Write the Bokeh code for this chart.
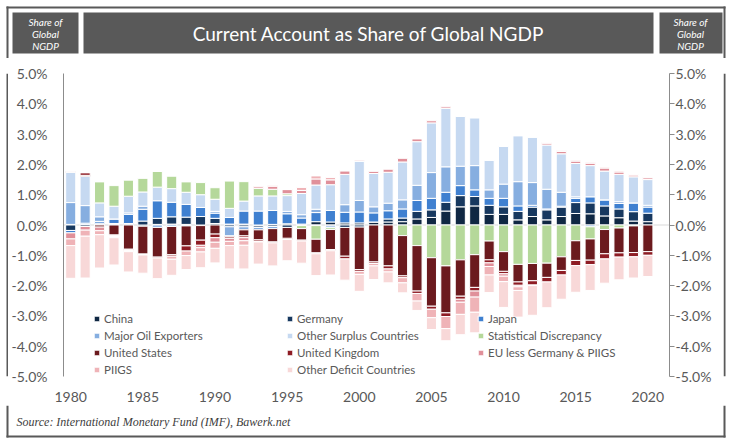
import numpy as np
from bokeh.plotting import figure
from bokeh.layouts import column, row
from bokeh.models import (ColumnDataSource, LinearAxis, FixedTicker, PrintfTickFormatter,
                          Legend, LegendItem, Span, Range1d)
from bokeh.core.properties import value
from bokeh.embed import file_html
from bokeh.resources import INLINE

years = list(range(1980, 2021))

china = [0.02, 0.02, 0.03, 0.02, 0.01, -0.04, 0.02, 0.03, 0.02, -0.02,
         0.05, 0.03, 0.03, -0.03, 0.02, 0.04, 0.03, 0.11, 0.10, 0.07,
         0.07, 0.10, 0.10, 0.11, 0.20, 0.25, 0.46, 0.60, 0.63, 0.35,
         0.35, 0.17, 0.28, 0.17, 0.28, 0.38, 0.37, 0.30, 0.24, 0.13, 0.11]
germany = [-0.18, -0.05, 0.03, 0.03, 0.04, 0.13, 0.20, 0.24, 0.24, 0.28,
           0.17, -0.06, -0.06, -0.05, -0.05, -0.08, -0.02, -0.02, -0.03, -0.08,
           -0.07, 0.00, 0.10, 0.12, 0.25, 0.25, 0.29, 0.37, 0.31, 0.30,
           0.25, 0.28, 0.31, 0.33, 0.31, 0.36, 0.36, 0.33, 0.29, 0.31, 0.28]
japan = [-0.08, 0.04, 0.06, 0.15, 0.30, 0.39, 0.58, 0.48, 0.42, 0.30,
         0.17, 0.22, 0.43, 0.46, 0.46, 0.33, 0.20, 0.30, 0.38, 0.35,
         0.36, 0.30, 0.27, 0.30, 0.36, 0.38, 0.33, 0.33, 0.22, 0.23,
         0.28, 0.18, 0.06, 0.03, 0.03, 0.14, 0.20, 0.20, 0.18, 0.29, 0.20]
oil_exporters = [0.72, 0.58, 0.15, 0.00, 0.05, 0.10, -0.08, -0.05, -0.03, 0.00,
                 0.06, -0.30, -0.10, -0.08, -0.07, 0.08, 0.11, 0.11, -0.06, 0.25,
                 0.38, 0.20, 0.25, 0.30, 0.50, 0.85, 0.84, 0.64, 0.80, 0.28,
                 0.47, 0.80, 0.75, 0.65, 0.46, 0.05, -0.06, 0.00, 0.06, 0.00, 0.06]
other_surplus = [1.00, 0.97, 0.46, 0.42, 0.55, 0.47, 0.45, 0.45, 0.40, 0.42,
                 0.40, 0.30, 0.33, 0.50, 0.48, 0.52, 0.70, 0.80, 0.85, 1.00,
                 1.30, 1.10, 1.02, 1.25, 1.44, 1.64, 1.93, 1.64, 1.57, 0.97,
                 1.24, 1.51, 1.50, 1.46, 1.27, 1.10, 1.03, 0.95, 0.90, 0.86, 0.85]
stat_discrepancy = [0.00, 0.00, 0.70, 0.68, 0.53, 0.46, 0.52, 0.42, 0.35, 0.40,
                    0.38, 0.90, 0.64, 0.25, 0.22, 0.06, -0.10, -0.45, -0.06, 0.00,
                    0.00, 0.00, 0.00, -0.35, -0.68, -1.08, -1.35, -1.15, -0.98, -0.53,
                    -0.88, -1.30, -1.27, -1.26, -1.05, -0.52, -0.40, -0.15, -0.10, -0.03, 0.00]
united_states = [0.01, 0.03, -0.07, -0.33, -0.80, -0.92, -0.98, -0.93, -0.66, -0.48,
                 -0.30, -0.03, -0.20, -0.33, -0.44, -0.36, -0.38, -0.45, -0.66, -0.95,
                 -1.40, -1.22, -1.35, -1.33, -1.50, -1.60, -1.55, -1.20, -1.08, -0.62,
                 -0.65, -0.58, -0.57, -0.47, -0.45, -0.65, -0.70, -0.80, -0.82, -0.88, -0.88]
united_kingdom = [0.01, 0.08, 0.00, -0.02, -0.02, -0.01, -0.03, -0.05, -0.17, -0.17,
                  -0.12, -0.05, -0.06, -0.05, -0.03, -0.04, -0.03, -0.03, -0.04, -0.09,
                  -0.06, -0.05, -0.10, -0.06, -0.08, -0.10, -0.12, -0.10, -0.12, -0.10,
                  -0.08, -0.11, -0.14, -0.15, -0.15, -0.17, -0.15, -0.17, -0.14, -0.14, -0.12]
eu_less = [-0.20, -0.12, -0.12, -0.03, -0.02, 0.00, 0.00, 0.00, 0.00, -0.08,
           -0.15, -0.10, -0.10, 0.05, 0.10, 0.14, 0.10, 0.20, 0.16, 0.12,
           0.03, 0.07, 0.10, 0.12, 0.09, 0.07, 0.05, -0.10, -0.20, -0.12,
           -0.08, -0.05, 0.00, 0.06, 0.08, 0.08, 0.08, 0.10, 0.08, 0.06, 0.06]
piigs = [-0.22, -0.20, -0.13, -0.04, -0.04, -0.02, 0.00, -0.10, -0.15, -0.14,
         -0.20, -0.14, -0.15, -0.02, 0.03, 0.00, 0.10, 0.10, 0.08, 0.00,
         -0.10, -0.08, -0.10, -0.17, -0.25, -0.28, -0.40, -0.40, -0.50, -0.28,
         -0.18, -0.12, -0.02, 0.02, 0.02, 0.03, 0.03, 0.03, 0.03, 0.02, 0.02]
other_deficit = [-1.08, -1.38, -1.10, -0.90, -0.67, -0.60, -0.68, -0.53, -0.46, -0.52,
                 -0.48, -0.77, -0.78, -0.73, -0.76, -0.70, -0.73, -0.72, -0.80, -0.70,
                 -0.56, -0.45, -0.36, -0.33, -0.31, -0.39, -0.40, -0.67, -0.68, -0.58,
                 -0.85, -0.88, -0.98, -0.85, -0.80, -0.88, -0.85, -0.80, -0.75, -0.70, -0.70]

names = ["China", "Germany", "Japan", "Major Oil Exporters", "Other Surplus Countries",
         "Statistical Discrepancy", "United States", "United Kingdom",
         "EU less Germany & PIIGS", "PIIGS", "Other Deficit Countries"]
colors = ["#0f2743", "#17385f", "#3f80d0", "#86aee0", "#c6d9f1", "#b5d89a",
          "#6b1a1e", "#8e1c24", "#e0909a", "#efb3b7", "#f8d8d8"]
series = [china, germany, japan, oil_exporters, other_surplus, stat_discrepancy,
          united_states, united_kingdom, eu_less, piigs, other_deficit]

year_ticks = [1980, 1985, 1990, 1995, 2000, 2005, 2010, 2015, 2020]
pct_ticks = [-5, -4, -3, -2, -1, 0, 1, 2, 3, 4, 5]

title_text = "Current Account as Share of Global NGDP"
side_lines = ["Share of", "Global", "NGDP"]
source_text = "Source: International Monetary Fund (IMF), Bawerk.net"

GRAY = "#595959"
FRAME = "#595959"
FONT = "Lato"

W = 732
HDR_H, MAIN_H, FTR_H = 58, 347, 38
LS, RS = 8, 9
MW = W - LS - RS
FX0, FX1 = 6, 725          # outer frame, page x
FY1 = 437                  # outer frame bottom, page y


def pixel_fig(w, h):
    f = figure(width=w, height=h, output_backend="svg", toolbar_location=None,
               x_range=Range1d(0, w), y_range=Range1d(h, 0),
               min_border=0, min_border_left=0, min_border_right=0,
               min_border_top=0, min_border_bottom=0)
    f.axis.visible = False
    f.grid.visible = False
    f.outline_line_color = None
    f.background_fill_color = "white"
    f.border_fill_color = "white"
    return f


# ---------- header ----------
hdr = pixel_fig(W, HDR_H)
hdr.quad(left=[FX0, FX0, FX1 - 2], right=[FX1, FX0 + 2, FX1], top=[6, 6, 6],
         bottom=[8, HDR_H, HDR_H], fill_color=FRAME, line_color=None)
hdr.quad(left=[12, 83, 659], right=[78, 653, 722], top=[12, 12, 12], bottom=[53, 53, 53],
         fill_color=GRAY, line_color=None)
hdr.text(x=[368], y=[33], text=[title_text], text_font=value(FONT),
         text_font_size=value("19px"), text_align="center", text_baseline="middle",
         text_color="white")
for cx in (45, 690):
    hdr.text(x=[cx] * 3, y=[21, 33, 45], text=side_lines, text_font=value(FONT),
             text_font_size=value("10px"), text_font_style="italic",
             text_align="center", text_baseline="middle", text_color="white")

# ---------- main chart ----------
FL, FR, FT, FB = 55, 661, 15, 318
p = figure(width=MW, height=MAIN_H, output_backend="svg", toolbar_location=None,
           x_range=Range1d(1979.5, 2021.5), y_range=Range1d(-5, 5),
           min_border_left=FL, min_border_right=MW - FR, min_border_top=FT,
           min_border_bottom=MAIN_H - FB)
p.outline_line_color = None
p.grid.visible = False
p.background_fill_color = "white"
p.border_fill_color = "white"

p.add_layout(Span(location=0, dimension="width", line_color="#d9d9d9",
                  line_width=1, level="underlay"))

pos = np.zeros(len(years))
neg = np.zeros(len(years))
renderers = []
for name, col, vals in zip(names, colors, series):
    v = np.array(vals, dtype=float)
    bottom = np.where(v >= 0, pos, neg)
    top = bottom + v
    pos = np.where(v >= 0, pos + v, pos)
    neg = np.where(v < 0, neg + v, neg)
    src = ColumnDataSource(dict(x=years, bottom=bottom, top=top))
    r = p.vbar(x="x", bottom="bottom", top="top", width=0.7, source=src,
               fill_color=col, line_color="white", line_width=1)
    renderers.append(r)

xa = p.xaxis[0]
xa.ticker = FixedTicker(ticks=year_ticks)
xa.axis_line_color = None
xa.major_tick_line_color = None
xa.minor_tick_line_color = None
xa.major_label_standoff = 9
xa.major_label_text_font = FONT
xa.major_label_text_font_size = "14px"
xa.major_label_text_color = GRAY

ya = p.yaxis[0]
ya.ticker = FixedTicker(ticks=pct_ticks)
ya.formatter = PrintfTickFormatter(format="%.1f%%")
ya.axis_line_color = "#8c8c8c"
ya.major_tick_out = 0
ya.major_tick_in = 0
ya.major_tick_line_color = None
ya.minor_tick_line_color = None
ya.major_label_standoff = 16
ya.major_label_text_font = FONT
ya.major_label_text_font_size = "14px"
ya.major_label_text_color = GRAY

ra = LinearAxis(ticker=FixedTicker(ticks=pct_ticks),
                formatter=PrintfTickFormatter(format="%.1f%%"))
ra.axis_line_color = "#8c8c8c"
ra.major_tick_line_color = "#8c8c8c"
ra.major_tick_out = 5
ra.major_tick_in = 0
ra.minor_tick_line_color = None
ra.major_label_standoff = 1
ra.major_label_text_font = FONT
ra.major_label_text_font_size = "14px"
ra.major_label_text_color = GRAY
p.add_layout(ra, "right")

cols_idx = [[0, 3, 6, 9], [1, 4, 7, 10], [2, 5, 8]]
col_x = [30, 223, 414]
for idxs, lx in zip(cols_idx, col_x):
    items = [LegendItem(label=names[i], renderers=[renderers[i]]) for i in idxs]
    ly = 0 if len(idxs) == 4 else 17
    leg = Legend(items=items, location=(lx, ly), orientation="vertical",
                 padding=0, margin=0, spacing=4, label_height=13,
                 glyph_width=7, glyph_height=7, label_standoff=4,
                 background_fill_alpha=0, border_line_color=None,
                 label_text_font=FONT, label_text_font_size="11.5px",
                 label_text_color=GRAY)
    p.add_layout(leg, "center")

lstrip = pixel_fig(LS, MAIN_H)
lstrip.quad(left=[FX0], right=[FX0 + 2], top=[0], bottom=[MAIN_H],
            fill_color=FRAME, line_color=None)
rstrip = pixel_fig(RS, MAIN_H)
rstrip.quad(left=[FX1 - 2 - (LS + MW)], right=[FX1 - (LS + MW)], top=[0], bottom=[MAIN_H],
            fill_color=FRAME, line_color=None)

# ---------- footer ----------
F0 = HDR_H + MAIN_H
ftr = pixel_fig(W, FTR_H)
ftr.quad(left=[FX0, FX0, FX1 - 2], right=[FX1, FX0 + 2, FX1],
         top=[FY1 - 2 - F0, 0, 0], bottom=[FY1 - F0, FY1 - F0, FY1 - F0],
         fill_color=FRAME, line_color=None)
ftr.text(x=[16], y=[421 - F0], text=[source_text], text_font=value("Liberation Serif"),
         text_font_size=value("12px"), text_font_style="italic", text_align="left",
         text_baseline="middle", text_color="#404040")

layout = column(hdr, row(lstrip, p, rstrip, spacing=0), ftr, spacing=0)
open("out.html", "w").write(file_html(layout, INLINE))
